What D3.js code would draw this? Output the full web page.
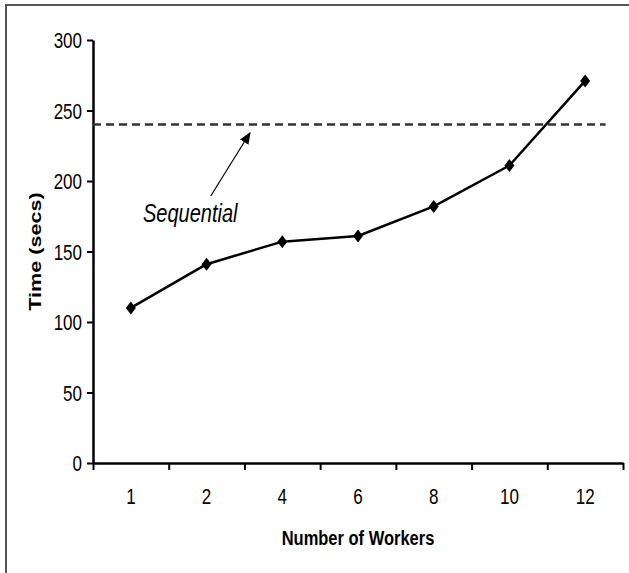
<!DOCTYPE html>
<html><head><meta charset="utf-8">
<script src="https://cdn.jsdelivr.net/npm/d3@7"></script>
<style>
body{margin:0;background:#fff}
svg{display:block}
text{font-family:"Liberation Sans",Arial,Helvetica,sans-serif;fill:#000}
</style>
</head><body>
<svg id="chart" width="629" height="573"></svg>
<script>
// ---- data ----
const categories = ["1", "2", "4", "6", "8", "10", "12"];
const times = [110, 141, 157, 161, 182, 211, 271];
const sequentialTime = 240;
const yTicks = [0, 50, 100, 150, 200, 250, 300];
const xTitle = "Number of Workers";
const yTitle = "Time (secs)";
const annotation = "Sequential";

// ---- layout ----
const svg = d3.select("#chart");
const mLeft = 93, mRight = 623, mTop = 40, mBottom = 463;
const SY = 1.25; // vertical text stretch seen in the reference

svg.append("rect").attr("x", 6).attr("y", 5).attr("width", 700).attr("height", 700)
  .attr("fill", "none").attr("stroke", "#555").attr("stroke-width", 2);

const x = d3.scaleBand().domain(categories).range([mLeft, mRight]).padding(0);
const xEdge = d3.scaleLinear().domain([0, categories.length]).range([mLeft, mRight]);
const y = d3.scaleLinear().domain([0, 300]).range([mBottom, mTop]);

// y axis
const yAxis = svg.append("g").attr("transform", `translate(${mLeft},0)`)
  .call(d3.axisLeft(y).tickValues(yTicks).tickSize(6).tickPadding(5).tickSizeOuter(0));
yAxis.attr("font-family", null).attr("font-size", null);
yAxis.select(".domain").attr("stroke", "#000").attr("stroke-width", 2.5);
yAxis.selectAll(".tick line").attr("stroke", "#000").attr("stroke-width", 2);
yAxis.selectAll(".tick text").attr("font-size", 17)
  .attr("dy", "0.36em")
  .attr("transform", `scale(1,${SY})`);

// x axis boundary ticks
const xAxisTicks = svg.append("g").attr("transform", `translate(0,${mBottom})`)
  .call(d3.axisBottom(xEdge).tickValues(d3.range(categories.length + 1)).tickSize(7).tickFormat("").tickSizeOuter(0));
xAxisTicks.select(".domain").attr("stroke", "#000").attr("stroke-width", 2.5);
xAxisTicks.selectAll(".tick line").attr("stroke", "#000").attr("stroke-width", 2);

// x labels
svg.append("g").selectAll("text").data(categories).join("text")
  .attr("text-anchor", "middle").attr("font-size", 17)
  .attr("transform", d => `translate(${x(d) + x.bandwidth() / 2},${504}) scale(1,${SY})`)
  .text(d => d);

// titles
svg.append("text").attr("text-anchor", "middle").attr("font-size", 16.5).attr("font-weight", "bold")
  .attr("transform", `translate(${(mLeft + mRight) / 2},${545}) scale(1,${SY})`).text(xTitle);
svg.append("text").attr("text-anchor", "middle").attr("font-size", 16).attr("font-weight", "bold")
  .attr("transform", `translate(${41},${(mTop + mBottom) / 2}) rotate(-90) scale(${1.35},1)`).text(yTitle);

// sequential dashed line
svg.append("line")
  .attr("x1", xEdge(0)).attr("x2", xEdge(6.77))
  .attr("y1", y(sequentialTime)).attr("y2", y(sequentialTime))
  .attr("stroke", "#333").attr("stroke-width", 2.5).attr("stroke-dasharray", "8,5");

// annotation arrow
svg.append("defs").append("marker").attr("id", "ah")
  .attr("viewBox", "0 0 12 10").attr("refX", 11).attr("refY", 5)
  .attr("markerWidth", 12).attr("markerHeight", 10).attr("markerUnits", "userSpaceOnUse")
  .attr("orient", "auto")
  .append("path").attr("d", "M0,0 L12,5 L0,10 Z").attr("fill", "#000");
svg.append("line")
  .attr("x1", xEdge(1.555)).attr("y1", y(189.4))
  .attr("x2", xEdge(2.074)).attr("y2", y(234.2))
  .attr("stroke", "#000").attr("stroke-width", 1.2).attr("marker-end", "url(#ah)");
svg.append("text").attr("font-size", 20).attr("font-style", "italic")
  .attr("transform", `translate(${xEdge(0.66)},${y(171)}) scale(1,${SY})`).text(annotation);

// data line
const line = d3.line().x((d, i) => x(categories[i]) + x.bandwidth() / 2).y(d => y(d));
svg.append("path").datum(times).attr("d", line)
  .attr("fill", "none").attr("stroke", "#000").attr("stroke-width", 2.5).attr("stroke-linejoin", "round");

// diamond markers
svg.append("g").selectAll("path").data(times).join("path")
  .attr("transform", (d, i) => `translate(${x(categories[i]) + x.bandwidth() / 2},${y(d)})`)
  .attr("d", "M0,-6.5 L5,0 L0,6.5 L-5,0 Z").attr("fill", "#000");
</script>
</body></html>
